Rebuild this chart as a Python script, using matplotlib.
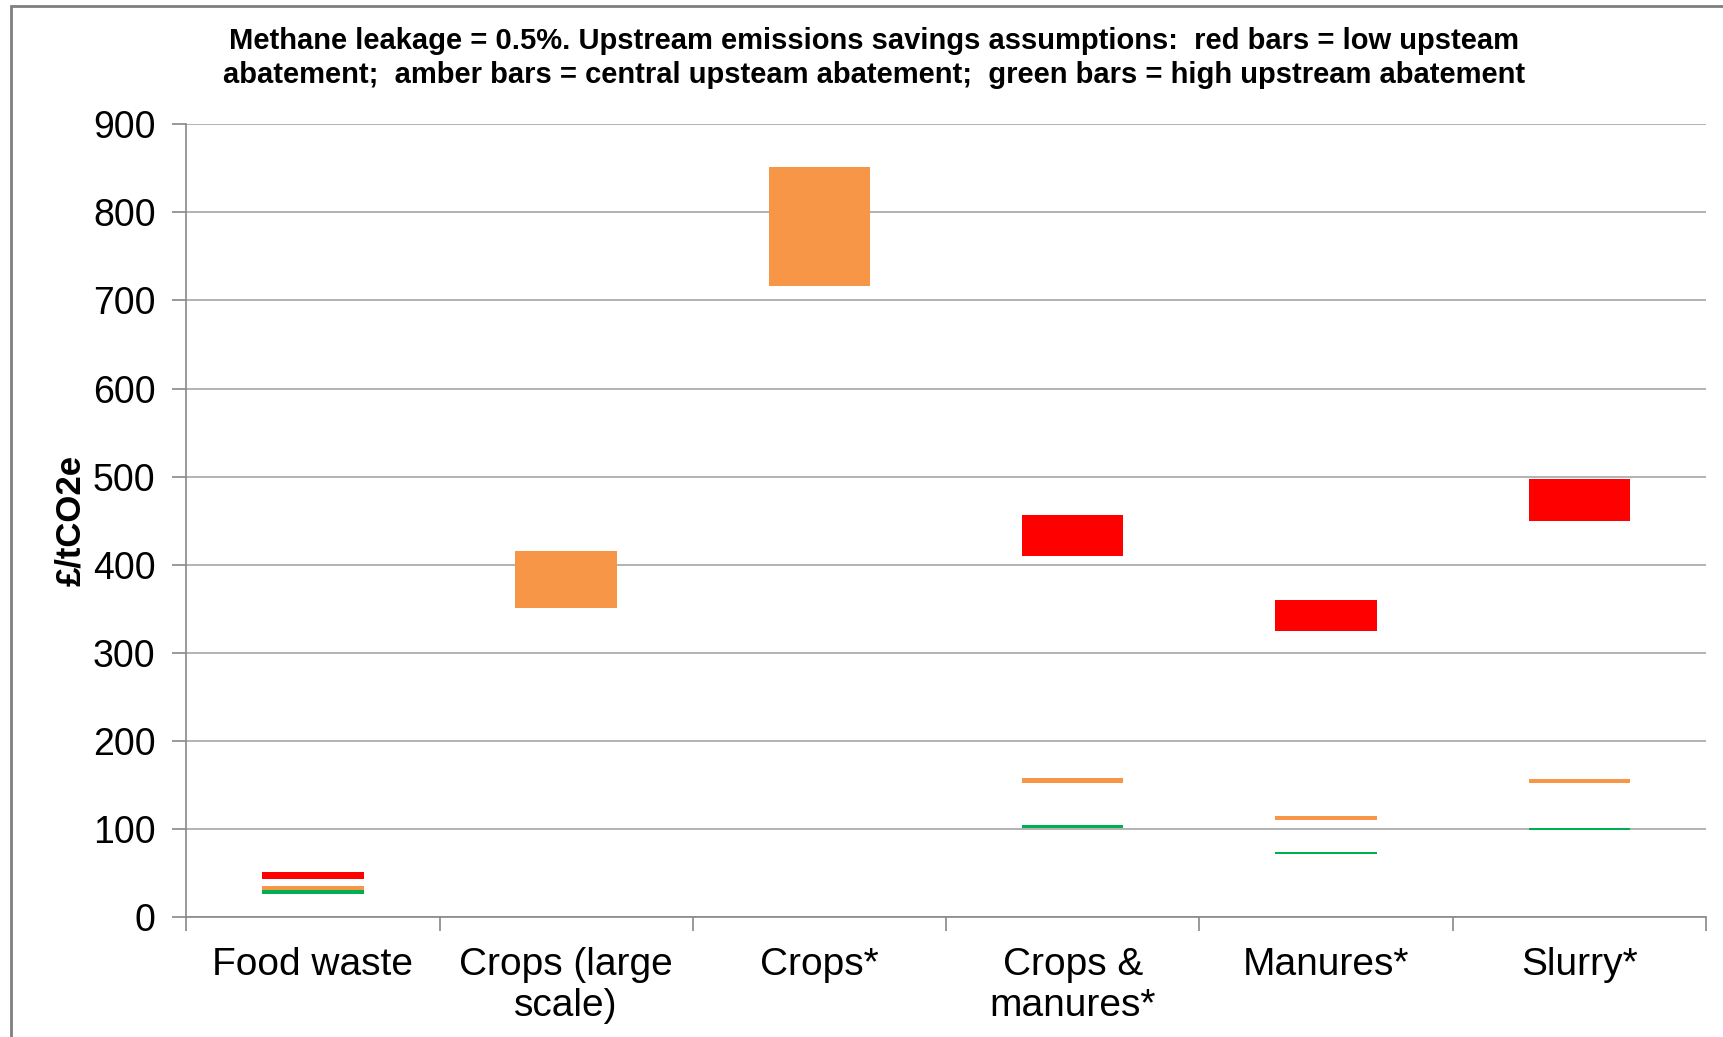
import numpy as np
import matplotlib.pyplot as plt
from matplotlib.patches import Rectangle

plt.rcParams['font.family'] = ['Liberation Sans', 'DejaVu Sans']

categories = ['Food waste', 'Crops (large\nscale)', 'Crops*', 'Crops &\nmanures*', 'Manures*', 'Slurry*']

# ranges (low, high) in £/tCO2e; None where no bar is shown
red_low = [43, None, None, 410, 325, 449]
red_high = [51, None, None, 456, 360, 497]
amber_low = [30, 351, 717, 152, 110, 152]
amber_high = [35, 416, 852, 158, 114, 157]
green_low = [26, None, None, 101, 71, 99]
green_high = [30, None, None, 104, 74, 101]

series = [
    (red_low, red_high, '#ff0000'),
    (amber_low, amber_high, '#f79646'),
    (green_low, green_high, '#00b050'),
]

fig = plt.figure(figsize=(17.24, 10.37), dpi=100)
ax = fig.add_axes([0.108, 0.116, 0.8816, 0.764])

x = np.arange(len(categories))
for lows, highs, col in series:
    for i in range(len(categories)):
        if lows[i] is None:
            continue
        ax.bar(x[i], highs[i] - lows[i], bottom=lows[i], width=0.4, color=col,
               edgecolor='none', zorder=3)

ax.set_xlim(-0.5, len(categories) - 0.5)
ax.set_ylim(0, 900)
ax.set_yticks(np.arange(0, 901, 100))
ax.yaxis.grid(True, color='#a6a6a6', linewidth=1.2)
ax.set_axisbelow(True)

ax.set_xticks(x)
ax.set_xticklabels(categories, fontsize=28, linespacing=1.18)
ax.set_xticks(np.arange(-0.5, len(categories), 1), minor=True)
ax.tick_params(axis='x', which='major', length=0, pad=22)
ax.tick_params(axis='x', which='minor', length=10, color='#888888', width=1.2)
ax.tick_params(axis='y', length=10, color='#888888', width=1.2, labelsize=27, pad=12)

for s in ['top', 'right']:
    ax.spines[s].set_visible(False)
for s in ['left', 'bottom']:
    ax.spines[s].set_color('#888888')
    ax.spines[s].set_linewidth(1.2)

ax.set_ylabel('£/tCO2e', fontsize=25, fontweight='bold', labelpad=4)

fig.text(0.507, 0.944,
         'Methane leakage = 0.5%. Upstream emissions savings assumptions:  red bars = low upsteam\n'
         'abatement;  amber bars = central upsteam abatement;  green bars = high upstream abatement',
         ha='center', va='center', fontsize=21, fontweight='bold', linespacing=1.25)

fig.patches.append(Rectangle((0.0064, -0.1), 1.2, 1.0942, transform=fig.transFigure,
                             fill=False, edgecolor='#7f7f7f', linewidth=2))

fig.savefig('out.png', dpi=100)
